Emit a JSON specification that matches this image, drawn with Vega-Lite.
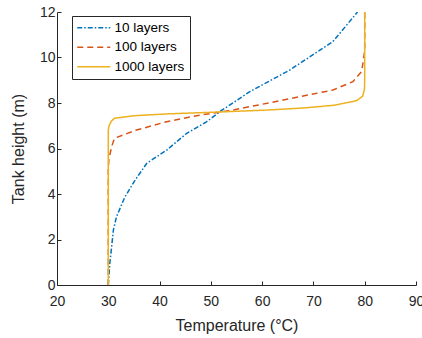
{
  "$schema": "https://vega.github.io/schema/vega-lite/v6.json",
  "width": 359,
  "height": 273,
  "autosize": {"type": "none"},
  "padding": {"left": 57, "top": 12, "right": 6, "bottom": 53},
  "background": "white",
  "config": {
    "view": {"stroke": null},
    "font": "Liberation Sans",
    "axis": {
      "grid": false,
      "domainColor": "#262626",
      "tickColor": "#262626",
      "labelColor": "#262626",
      "titleColor": "#262626",
      "labelFont": "Liberation Sans",
      "titleFont": "Liberation Sans",
      "labelFontSize": 14,
      "titleFontSize": 16,
      "titleFontWeight": "normal",
      "labelFlush": false,
      "labelOverlap": false,
      "tickSize": -4,
      "domainWidth": 1,
      "tickWidth": 1
    }
  },
  "data": {
    "values": [
      {"layers": "10 layers", "T": 30.0, "h": 0},
      {"layers": "10 layers", "T": 30.3, "h": 0.95},
      {"layers": "10 layers", "T": 30.65, "h": 1.67},
      {"layers": "10 layers", "T": 31.0, "h": 2.42},
      {"layers": "10 layers", "T": 31.6, "h": 3.0},
      {"layers": "10 layers", "T": 33.2, "h": 3.85},
      {"layers": "10 layers", "T": 35.2, "h": 4.6},
      {"layers": "10 layers", "T": 37.5, "h": 5.35},
      {"layers": "10 layers", "T": 41.4, "h": 5.93},
      {"layers": "10 layers", "T": 45.3, "h": 6.67},
      {"layers": "10 layers", "T": 49.2, "h": 7.18},
      {"layers": "10 layers", "T": 51.75, "h": 7.62},
      {"layers": "10 layers", "T": 57.6, "h": 8.5},
      {"layers": "10 layers", "T": 65.4, "h": 9.45},
      {"layers": "10 layers", "T": 73.8, "h": 10.7},
      {"layers": "10 layers", "T": 78.6, "h": 12.0},
      {"layers": "100 layers", "T": 30.0, "h": 0},
      {"layers": "100 layers", "T": 30.0, "h": 5.0},
      {"layers": "100 layers", "T": 30.1, "h": 5.5},
      {"layers": "100 layers", "T": 30.65, "h": 6.08},
      {"layers": "100 layers", "T": 31.2, "h": 6.45},
      {"layers": "100 layers", "T": 35.5, "h": 6.81},
      {"layers": "100 layers", "T": 41.4, "h": 7.18},
      {"layers": "100 layers", "T": 47.9, "h": 7.47},
      {"layers": "100 layers", "T": 52.4, "h": 7.62},
      {"layers": "100 layers", "T": 54.3, "h": 7.69},
      {"layers": "100 layers", "T": 64.1, "h": 8.13},
      {"layers": "100 layers", "T": 73.8, "h": 8.57},
      {"layers": "100 layers", "T": 77.7, "h": 8.94},
      {"layers": "100 layers", "T": 79.4, "h": 9.38},
      {"layers": "100 layers", "T": 79.7, "h": 9.82},
      {"layers": "100 layers", "T": 80.0, "h": 10.3},
      {"layers": "100 layers", "T": 80.0, "h": 12.0},
      {"layers": "1000 layers", "T": 30.0, "h": 0},
      {"layers": "1000 layers", "T": 30.0, "h": 6.8},
      {"layers": "1000 layers", "T": 30.15, "h": 7.0},
      {"layers": "1000 layers", "T": 30.6, "h": 7.2},
      {"layers": "1000 layers", "T": 31.2, "h": 7.33},
      {"layers": "1000 layers", "T": 35.0, "h": 7.44},
      {"layers": "1000 layers", "T": 41.4, "h": 7.52},
      {"layers": "1000 layers", "T": 51.0, "h": 7.6},
      {"layers": "1000 layers", "T": 61.0, "h": 7.69},
      {"layers": "1000 layers", "T": 68.0, "h": 7.78},
      {"layers": "1000 layers", "T": 74.0, "h": 7.9},
      {"layers": "1000 layers", "T": 78.4, "h": 8.1},
      {"layers": "1000 layers", "T": 79.6, "h": 8.3},
      {"layers": "1000 layers", "T": 79.95, "h": 8.6},
      {"layers": "1000 layers", "T": 80.0, "h": 9.0},
      {"layers": "1000 layers", "T": 80.0, "h": 12.0}
    ]
  },
  "mark": {"type": "line", "strokeWidth": 1.5, "clip": true},
  "encoding": {
    "x": {
      "field": "T",
      "type": "quantitative",
      "title": "Temperature (°C)",
      "scale": {"domain": [20, 90], "nice": false, "zero": false},
      "axis": {"values": [20, 30, 40, 50, 60, 70, 80, 90], "labelPadding": 13, "titlePadding": 9}
    },
    "y": {
      "field": "h",
      "type": "quantitative",
      "title": "Tank height (m)",
      "scale": {"domain": [0, 12], "nice": false},
      "axis": {"values": [0, 2, 4, 6, 8, 10, 12], "labelPadding": 6, "titlePadding": 13}
    },
    "order": {"field": "h", "type": "quantitative"},
    "color": {
      "field": "layers",
      "type": "nominal",
      "title": null,
      "sort": ["10 layers", "100 layers", "1000 layers"],
      "scale": {"domain": ["10 layers", "100 layers", "1000 layers"], "range": ["#0072BD", "#D95319", "#EDB120"]},
      "legend": {
        "orient": "none",
        "legendX": 15,
        "legendY": 4,
        "strokeColor": "#262626",
        "fillColor": "white",
        "padding": 5,
        "symbolType": "M-3.3,0H3.3",
        "symbolSize": 100,
        "symbolOffset": 10,
        "labelOffset": 14,
        "symbolStrokeWidth": 1.5,
        "labelFontSize": 13.5,
        "labelFont": "Liberation Sans",
        "labelColor": "#000000",
        "rowPadding": 4.5
      }
    },
    "strokeDash": {
      "field": "layers",
      "type": "nominal",
      "title": null,
      "sort": ["10 layers", "100 layers", "1000 layers"],
      "scale": {"domain": ["10 layers", "100 layers", "1000 layers"], "range": [[5, 2, 1.5, 2], [6, 4], [1, 0]]}
    }
  }
}
